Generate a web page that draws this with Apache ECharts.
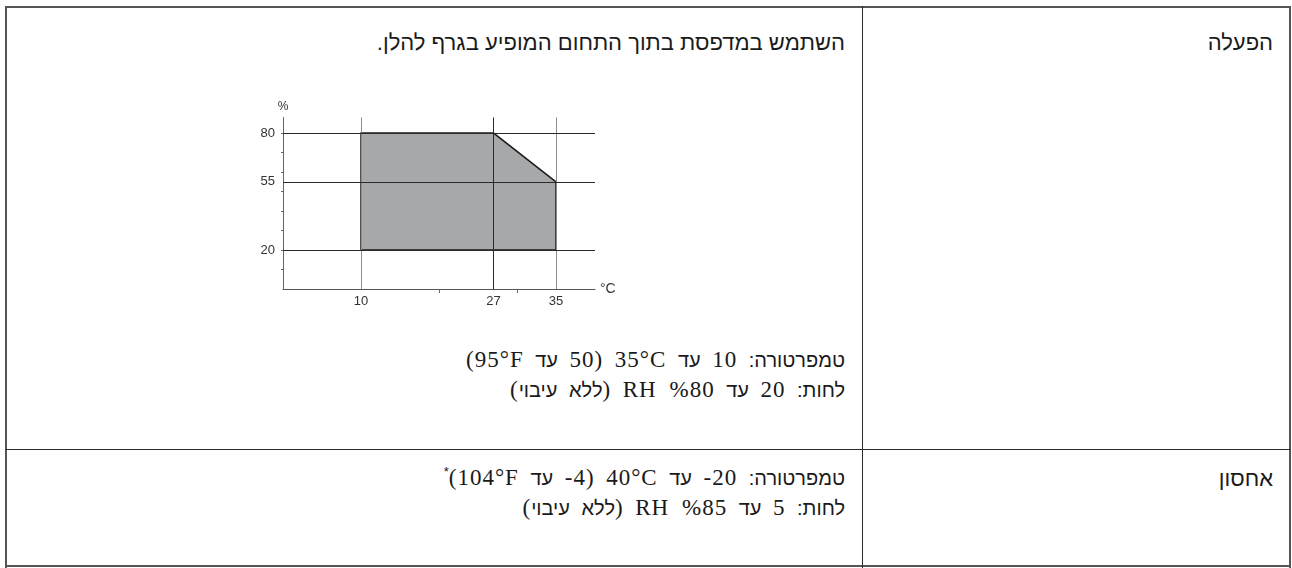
<!DOCTYPE html>
<html lang="he">
<head>
<meta charset="utf-8">
<script src="https://cdn.jsdelivr.net/npm/echarts@6.0.0/dist/echarts.min.js"></script>
<style>
  body { margin: 0; background: #fff; }
  #page { position: relative; width: 1292px; height: 568px; overflow: hidden; background: #fff; }
  .rule { position: absolute; background: #2b2b2b; }
  .txt { position: absolute; direction: rtl; text-align: right; white-space: nowrap; color: #1a1a1a;
         font-family: "Liberation Sans", sans-serif; font-size: 20px; line-height: 24px; word-spacing: 6px; }
  .txt .l { font-family: "Liberation Serif", serif; font-size: 23px; letter-spacing: 1px; }
  .head { font-size: 22px; line-height: 22px; word-spacing: 0; }
  sup { font-size: 13px; line-height: 0; vertical-align: 9px; }
  #chart { position: absolute; left: 0; top: 0; width: 862px; height: 448px; }
</style>
</head>
<body>
<div id="page">
  <!-- table frame -->
  <div class="rule" style="left:5px;top:6px;width:1286px;height:2px;background:#555"></div>
  <div class="rule" style="left:5px;top:6px;width:2px;height:562px;background:#555"></div>
  <div class="rule" style="left:1289px;top:6px;width:2px;height:562px;background:#555"></div>
  <div class="rule" style="left:5px;top:565px;width:1286px;height:2px;background:#555"></div>
  <div class="rule" style="left:862px;top:6px;width:1px;height:562px"></div>
  <div class="rule" style="left:5px;top:449px;width:1286px;height:1px"></div>

  <div class="txt head" style="right:19px;top:32px">הפעלה</div>
  <div class="txt head" style="right:447px;top:32px">השתמש במדפסת בתוך התחום המופיע בגרף להלן.</div>
  <div class="txt" style="right:447px;top:348px">טמפרטורה: <span class="l">10</span> עד <span class="l" dir="ltr">35°C</span> <span class="l">(50</span> עד <span class="l" dir="ltr">95°F</span><span class="l">)</span></div>
  <div class="txt" style="right:447px;top:378px">לחות: <span class="l">20</span> עד <span class="l">%80 RH</span> <span class="l">(</span>ללא עיבוי<span class="l">)</span></div>

  <div class="txt head" style="right:19px;top:468px">אחסון</div>
  <div class="txt" style="right:447px;top:466px">טמפרטורה: <span class="l">20-</span> עד <span class="l" dir="ltr">40°C</span> <span class="l">(4-</span> עד <span class="l" dir="ltr">104°F</span><span class="l">)</span><sup>*</sup></div>
  <div class="txt" style="right:447px;top:496px">לחות: <span class="l">5</span> עד <span class="l">%85 RH</span> <span class="l">(</span>ללא עיבוי<span class="l">)</span></div>

  <div id="chart"></div>
</div>
<script>
// operating range, temperature (°C) vs relative humidity (%)
const tempTicks = [20, 30];
const tempLabels = [10, 27, 35];
const humTicks = [10, 20, 30, 40, 50, 60, 70, 80];
const humLabels = [20, 55, 80];
const tempLines = [10, 27, 35];
const humLines = [20, 55, 80];
const zoneTemp = [10, 10, 27, 35, 35];
const zoneHum = [20, 80, 80, 55, 20];

const axisFont = "'Liberation Sans Narrow', 'Liberation Sans', sans-serif";
const vLineColor = { 10: '#8c8c8c', 27: '#2a2a2a', 35: '#8c8c8c' };

const chart = echarts.init(document.getElementById('chart'), null, { renderer: 'canvas' });

// polygon through the axis scales; fill and outline are drawn separately so grid lines sit between them
const zoneSeries = (z, style) => ({
  type: 'custom', z, silent: true,
  data: [[zoneTemp[0], zoneHum[0]]],
  renderItem: (params, api) => ({
    type: 'polygon',
    shape: { points: zoneTemp.map((t, i) => api.coord([t, zoneHum[i]])) },
    style,
  }),
});

chart.setOption({
  animation: false,
  grid: { left: 283, top: 117.5, width: 312, height: 171.5 },
  xAxis: {
    type: 'value', min: 0, max: 40,
    name: '°C', nameLocation: 'end', nameGap: 5,
    nameTextStyle: { color: '#333', fontSize: 14, fontFamily: axisFont, verticalAlign: 'middle' },
    axisLine: { lineStyle: { color: '#555', width: 1 } },
    axisTick: { show: true, customValues: tempTicks, length: 4, lineStyle: { color: '#666' } },
    axisLabel: { customValues: tempLabels, margin: 6, color: '#333', fontSize: 13, fontFamily: axisFont },
    splitLine: { show: false },
  },
  yAxis: {
    type: 'value', min: 0, max: 88,
    name: '%', nameLocation: 'end', nameGap: 5,
    nameTextStyle: { color: '#333', fontSize: 12, fontFamily: axisFont, align: 'center' },
    axisLine: { show: true, lineStyle: { color: '#666', width: 1 } },
    axisTick: { show: true, customValues: humTicks, length: 2, lineStyle: { color: '#666' } },
    axisLabel: { customValues: humLabels, margin: 8, color: '#333', fontSize: 13, fontFamily: axisFont },
    splitLine: { show: false },
  },
  series: [
    zoneSeries(1, { fill: '#a7a8aa', stroke: null }),
    {
      type: 'line', z: 2, silent: true, data: [],
      markLine: {
        silent: true, symbol: 'none', label: { show: false },
        data: [
          ...tempLines.map((v) => ({ xAxis: v, lineStyle: { color: vLineColor[v], width: 1, type: 'solid' } })),
          ...humLines.map((v) => ({ yAxis: v, lineStyle: { color: '#2a2a2a', width: 1, type: 'solid' } })),
        ],
      },
    },
    zoneSeries(3, { fill: null, stroke: '#1a1a1a', lineWidth: 1.5 }),
  ],
});
</script>
</body>
</html>
